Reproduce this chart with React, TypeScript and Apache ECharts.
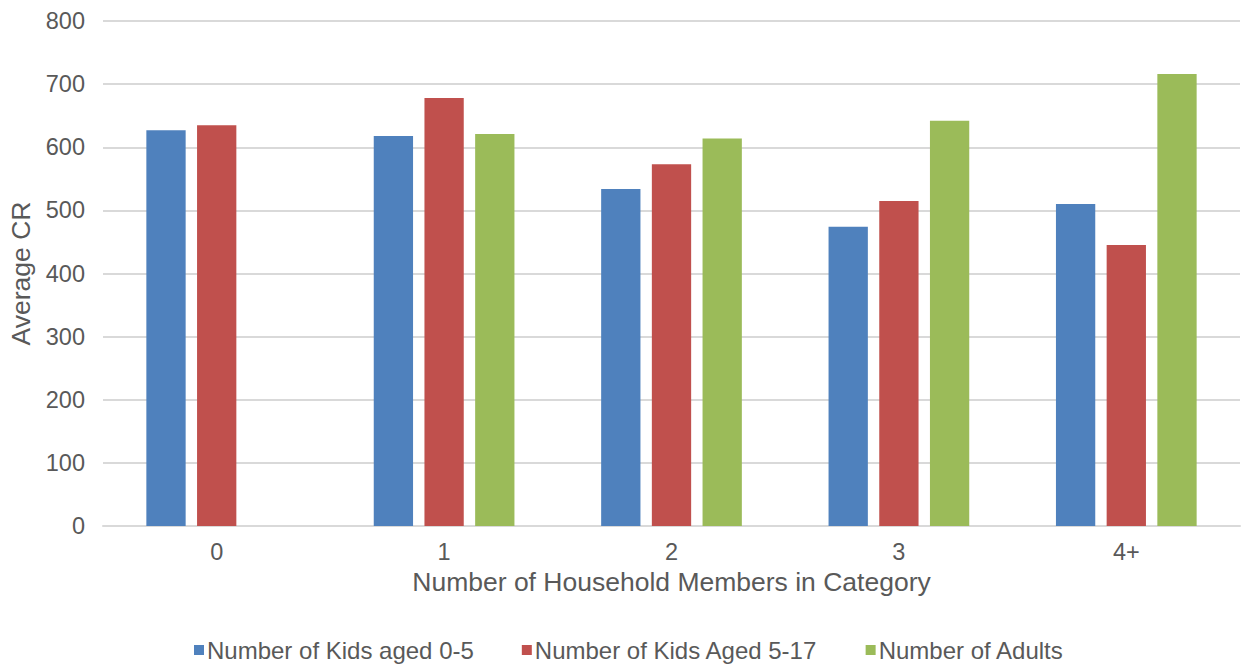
import React, { useEffect, useRef } from "react";
import * as echarts from "echarts";

const categories = ["0", "1", "2", "3", "4+"];
const kids0to5 = [627, 618, 534, 474, 510];
const kids5to17 = [635, 678, 573, 515, 445];
const adults = [null, 621, 614, 642, 716];

const seriesNames = [
  "Number of Kids aged 0-5",
  "Number of Kids Aged 5-17",
  "Number of Adults",
];
const colors = ["#4F81BD", "#C0504D", "#9BBB59"];

const FONT = "'Liberation Sans', Arial, Helvetica, sans-serif";
const TEXT = "#595959";

export default function App() {
  const ref = useRef<HTMLDivElement>(null);

  useEffect(() => {
    document.body.style.margin = "0";
    const chart = echarts.init(ref.current!, null, { renderer: "svg" });
    const bar = (name: string, data: (number | null)[], color: string) => ({
      name,
      type: "bar",
      data,
      barWidth: 39.3,
      barGap: "29%",
      itemStyle: { color },
    });
    chart.setOption({
      animation: false,
      color: colors,
      textStyle: { fontFamily: FONT, color: TEXT },
      grid: {
        left: 103,
        right: 4,
        top: 21,
        bottom: 138,
        containLabel: false,
        outerBoundsMode: "none",
      },
      legend: {
        bottom: -3,
        left: 189,
        icon: "rect",
        itemWidth: 10,
        itemHeight: 10,
        itemGap: 48,
        textStyle: { fontSize: 24, color: TEXT, fontFamily: FONT, padding: [0, 0, 0, -2] },
        data: seriesNames,
      },
      xAxis: {
        type: "category",
        data: categories,
        name: "Number of Household Members in Category",
        nameLocation: "middle",
        nameGap: 41,
        nameTextStyle: { fontSize: 26.5, color: TEXT, fontFamily: FONT },
        axisLine: { lineStyle: { color: "#D9D9D9", width: 2 } },
        axisTick: { show: false },
        axisLabel: { fontSize: 23.5, color: TEXT, margin: 14, fontFamily: FONT },
      },
      yAxis: {
        type: "value",
        min: 0,
        max: 800,
        interval: 100,
        name: "Average CR",
        nameLocation: "middle",
        nameGap: 67,
        nameTextStyle: { fontSize: 26.5, color: TEXT, fontFamily: FONT },
        axisLine: { show: false },
        axisTick: { show: false },
        axisLabel: { fontSize: 23.5, color: TEXT, margin: 18, fontFamily: FONT },
        splitLine: { lineStyle: { color: "#D9D9D9", width: 2 } },
      },
      series: [
        bar(seriesNames[0], kids0to5, colors[0]),
        bar(seriesNames[1], kids5to17, colors[1]),
        bar(seriesNames[2], adults, colors[2]),
      ],
    });
    return () => chart.dispose();
  }, []);

  return (
    <div
      ref={ref}
      style={{ position: "absolute", left: 0, top: 0, width: 1244, height: 664, background: "#fff" }}
    />
  );
}
